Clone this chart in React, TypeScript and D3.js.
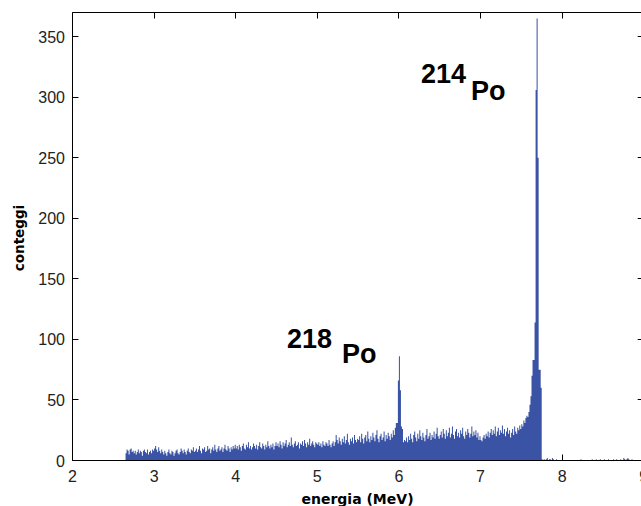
import React from "react";
import * as d3 from "d3";

// ---- data ----
const xTicks = [2, 3, 4, 5, 6, 7, 8, 9];
const yTicks = [0, 50, 100, 150, 200, 250, 300, 350];
const BIN_WIDTH = 0.0125; // MeV

const counts265 = [6, 9, 8, 5, 9, 10, 7, 8, 6, 8, 5, 7, 9, 6, 8, 7, 4, 8, 9, 7, 6, 9, 5, 7, 8, 6, 9, 8];
const counts300 = [10, 12, 9, 7, 11, 8, 6, 9, 7, 5, 8, 6, 4, 7, 9, 6, 5, 8, 7, 4, 6, 8, 9, 6, 5, 7, 10, 8, 6, 9, 7, 5, 8, 10, 7, 6, 9, 8, 11, 7];
const counts350 = [8, 10, 7, 9, 12, 8, 6, 10, 9, 11, 7, 8, 12, 9, 10, 6, 9, 11, 8, 13, 9, 7, 10, 12, 8, 9, 11, 7, 10, 13, 9, 8, 12, 10, 7, 11, 9, 12, 10, 13];
const counts400 = [10, 12, 9, 13, 11, 8, 12, 14, 10, 9, 13, 11, 15, 10, 12, 9, 11, 14, 12, 10, 13, 9, 12, 15, 11, 10, 14, 12, 9, 13, 11, 16, 12, 10, 13, 11, 14, 9, 12, 15];
const counts450 = [12, 14, 11, 16, 13, 10, 15, 12, 14, 17, 11, 13, 15, 12, 19, 13, 11, 14, 16, 12, 13, 15, 10, 14, 13, 16, 12, 17, 14, 11, 15, 13, 18, 12, 14, 16, 13, 11, 15, 14];
const counts500 = [13, 15, 12, 14, 11, 16, 13, 12, 15, 14, 12, 17, 13, 11, 14, 16, 12, 15, 21, 17, 14, 19, 16, 13, 18, 15, 20, 14, 17, 22, 15, 13, 18, 16, 19, 14, 21, 17, 15, 18];
const counts550 = [17, 20, 15, 22, 18, 14, 19, 21, 16, 24, 18, 15, 20, 17, 23, 19, 16, 21, 25, 18, 15, 20, 22, 17, 19, 24, 16, 21, 18, 23, 20, 17, 22, 19, 25, 21, 27, 31, 31, 66];
const counts600 = [86, 58, 28, 26, 15, 17, 16, 19, 15, 20, 17, 22, 18, 15, 21, 24, 19, 16, 22, 18, 25, 20, 17, 23, 19, 16, 21, 26, 18, 20, 23, 17, 21, 19, 24, 18, 22, 27, 20, 18];
const counts650 = [21, 24, 19, 26, 22, 18, 25, 20, 23, 27, 19, 22, 28, 21, 18, 24, 26, 20, 23, 19, 25, 22, 27, 20, 18, 24, 21, 26, 23, 19, 22, 28, 20, 24, 21, 25, 19, 23, 17, 20];
const counts700 = [17, 16, 19, 21, 18, 22, 20, 24, 19, 23, 26, 21, 25, 22, 28, 20, 24, 27, 21, 25, 23, 29, 22, 26, 20, 24, 27, 22, 25, 19, 23, 26, 21, 28, 24, 22, 27, 25, 29, 26];
const counts750 = [30, 28, 33, 31, 35, 37, 36, 40, 46, 53, 70, 83, 83, 114, 306, 365, 250, 75, 75, 60, 1, 0, 1, 0];
const counts780 = [
  1, 2, 0, 1, 1, 0, 2, 1, 0, 0,
  1, 0, 0, 0, 0, 0, 0, 0, 0, 0,
  0, 0, 0, 0, 0, 0, 0, 0, 0, 0,
  0, 0, 0, 0, 1, 0, 0, 0, 0, 0,
  0, 0, 0, 0, 0, 1, 0, 0, 0, 1,
  0, 0, 0, 1, 0, 0, 0, 1, 0, 0,
  0, 1, 0, 0, 0, 0, 1, 0, 0, 1,
  0, 0, 0, 1, 0, 0, 2, 1, 0, 1,
  2, 1, 0, 0, 1, 0, 0, 0,
];

const segments = [
  { start: 2.65, counts: counts265 },
  { start: 3.0, counts: counts300 },
  { start: 3.5, counts: counts350 },
  { start: 4.0, counts: counts400 },
  { start: 4.5, counts: counts450 },
  { start: 5.0, counts: counts500 },
  { start: 5.5, counts: counts550 },
  { start: 6.0, counts: counts600 },
  { start: 6.5, counts: counts650 },
  { start: 7.0, counts: counts700 },
  { start: 7.5, counts: counts750 },
  { start: 7.8, counts: counts780 },
];

const xLabel = "energia (MeV)";
const yLabel = "conteggi";

export default function App() {
  const W = 641;
  const H = 506;
  const left = 72.5;
  const right = 72.5 + 7 * 81.6;
  const top = 12.5;
  const bottom = 460.5;

  const x = d3.scaleLinear().domain([2, 9]).range([left, right]);
  const y = d3.scaleLinear().domain([0, 370]).range([bottom, top]);

  const bins = segments.flatMap((s) =>
    s.counts.map((c, i) => ({ e0: s.start + i * BIN_WIDTH, c }))
  );
  const last = bins[bins.length - 1];
  const stepPts = [...bins, { e0: last.e0 + BIN_WIDTH, c: last.c }];

  const area = d3
    .area<{ e0: number; c: number }>()
    .x((d) => x(d.e0))
    .y0(y(0))
    .y1((d) => y(d.c))
    .curve(d3.curveStepAfter);

  const tickFont = "'Liberation Sans', Arial, sans-serif";
  const labelFont = "'DejaVu Sans', sans-serif";
  const annFont = "'Liberation Sans', Arial, sans-serif";
  const tl = 6;
  const cx = (v: number) => Math.floor(x(v)) + 0.5;
  const cy = (v: number) => Math.floor(y(v)) + 0.5;

  return (
    <svg
      width={W}
      height={H}
      style={{ position: "absolute", left: 0, top: 0, background: "#fff" }}
    >
      {/* ticks (behind data) */}
      <g stroke="#000" strokeWidth={1}>
        {xTicks.map((t) => (
          <g key={"xt" + t}>
            <line x1={cx(t)} x2={cx(t)} y1={bottom} y2={bottom - tl} />
            <line x1={cx(t)} x2={cx(t)} y1={top} y2={top + tl} />
          </g>
        ))}
        {yTicks.map((t) => (
          <g key={"yt" + t}>
            <line x1={left} x2={left + tl} y1={cy(t)} y2={cy(t)} />
            <line x1={right} x2={right - tl} y1={cy(t)} y2={cy(t)} />
          </g>
        ))}
      </g>

      {/* histogram */}
      <path d={area(stepPts) || ""} fill="#3a53a4" stroke="none" />

      {/* box */}
      <g stroke="#000" strokeWidth={1} fill="none">
        <line x1={left} x2={right} y1={bottom} y2={bottom} />
        <line x1={left} x2={right} y1={top} y2={top} />
        <line x1={left} x2={left} y1={top} y2={bottom} />
        <line x1={right} x2={right} y1={top} y2={bottom} />
      </g>

      {/* tick labels */}
      <g fontFamily={tickFont} fontSize={16} fill="#222">
        {xTicks.map((t) => (
          <text key={"xl" + t} x={x(t)} y={482} textAnchor="middle">
            {t}
          </text>
        ))}
        {yTicks.map((t) => (
          <text key={"yl" + t} x={65} y={y(t) + 6} textAnchor="end">
            {t}
          </text>
        ))}
      </g>

      {/* axis labels */}
      <text
        x={357.5}
        y={504}
        textAnchor="middle"
        fontFamily={labelFont}
        fontWeight="bold"
        fontSize={14}
        fill="#000"
      >
        {xLabel}
      </text>
      <text
        transform="translate(24,238) rotate(-90)"
        textAnchor="middle"
        fontFamily={labelFont}
        fontWeight="bold"
        fontSize={13.5}
        fill="#000"
      >
        {yLabel}
      </text>

      {/* annotations */}
      <g fontFamily={annFont} fontWeight="bold" fontSize={27} fill="#000">
        <text x={421} y={83}>214</text>
        <text x={471} y={100}>Po</text>
        <text x={287} y={348}>218</text>
        <text x={342} y={363}>Po</text>
      </g>
    </svg>
  );
}
